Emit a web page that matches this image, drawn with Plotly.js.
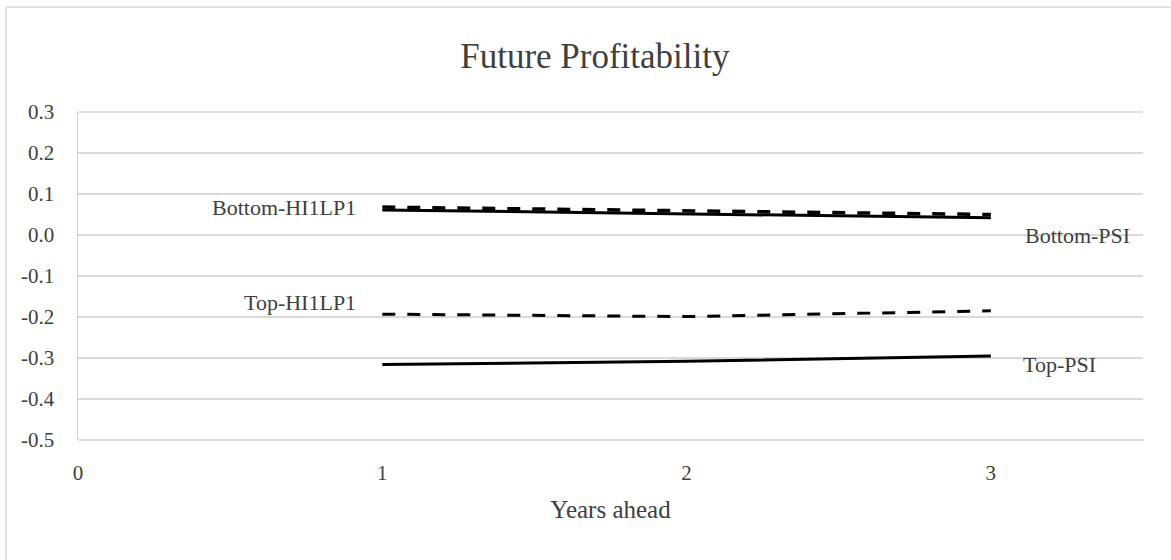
<!DOCTYPE html>
<html>
<head>
<meta charset="utf-8">
<script src="https://cdn.plot.ly/plotly-3.0.1.min.js"></script>
<style>html,body{margin:0;padding:0;background:#fff;}#chart{width:1171px;height:560px;}</style>
</head>
<body>
<div id="chart"></div>
<script>
const years = [1, 2, 3];
const bottomHI1LP1 = [0.068, 0.058, 0.050];
const bottomPSI = [0.061, 0.051, 0.042];
const topHI1LP1 = [-0.193, -0.199, -0.185];
const topPSI = [-0.316, -0.308, -0.295];
const yTicks = [0.3, 0.2, 0.1, 0.0, -0.1, -0.2, -0.3, -0.4, -0.5];
const yTickText = ['0.3', '0.2', '0.1', '0.0', '-0.1', '-0.2', '-0.3', '-0.4', '-0.5'];
const xTicks = [0, 1, 2, 3];

const font = 'Liberation Serif, Times New Roman, serif';
const txt = '#404040';

const traces = [
  {x: years, y: bottomPSI, mode: 'lines', name: 'Bottom-PSI', line: {color: '#000', width: 3}},
  {x: years, y: bottomHI1LP1, mode: 'lines', name: 'Bottom-HI1LP1', line: {color: '#000', width: 3.5, dash: '13px,12px'}},
  {x: years, y: topHI1LP1, mode: 'lines', name: 'Top-HI1LP1', line: {color: '#000', width: 3, dash: '13px,12px'}},
  {x: years, y: topPSI, mode: 'lines', name: 'Top-PSI', line: {color: '#000', width: 3}}
];

const layout = {
  width: 1171, height: 560,
  margin: {l: 78, r: 28, t: 112, b: 120},
  paper_bgcolor: '#fff', plot_bgcolor: '#fff',
  showlegend: false,
  font: {family: font, color: txt, size: 21},
  title: {text: 'Future Profitability', font: {family: font, size: 35, color: txt}, x: 0.508, xanchor: 'center', y: 0.9, yanchor: 'middle', yref: 'container'},
  xaxis: {
    range: [0, 3.5], tickvals: xTicks, ticktext: xTicks.map(String),
    showgrid: false, zeroline: false, showline: false, ticks: '',
    tickfont: {family: font, size: 21, color: txt}, ticklabelstandoff: 18,
    title: {text: 'Years ahead', font: {family: font, size: 25, color: txt}, standoff: 16}
  },
  yaxis: {
    range: [-0.5, 0.3], tickvals: yTicks, ticktext: yTickText,
    showgrid: true, gridcolor: '#d9d9d9', gridwidth: 1.5, zeroline: false,
    showline: true, linecolor: '#d0d0d0', linewidth: 1.5, ticks: '',
    tickfont: {family: font, size: 21, color: txt}, ticklabelstandoff: 18
  },
  shapes: [
    {type: 'line', xref: 'paper', yref: 'paper', x0: -0.0676, x1: -0.0676, y0: 1.32, y1: -0.4, line: {color: '#d9d9d9', width: 1.5}},
    {type: 'line', xref: 'paper', yref: 'paper', x0: -0.0676, x1: 1.05, y0: 1.32, y1: 1.32, line: {color: '#d9d9d9', width: 1.5}},
    {type: 'line', xref: 'paper', yref: 'paper', x0: 0, x1: 1, y0: 0, y1: 0, line: {color: '#d0d0d0', width: 1.5}},
    {type: 'line', xref: 'paper', yref: 'paper', x0: 0, x1: 1, y0: 1, y1: 1, line: {color: '#d9d9d9', width: 1.5}}
  ],
  annotations: [
    {x: 0.92, y: 0.068, xref: 'x', yref: 'y', text: 'Bottom-HI1LP1', showarrow: false, xanchor: 'right', yanchor: 'middle', font: {family: font, size: 22, color: txt}},
    {x: 0.92, y: -0.165, xref: 'x', yref: 'y', text: 'Top-HI1LP1', showarrow: false, xanchor: 'right', yanchor: 'middle', font: {family: font, size: 22, color: txt}},
    {x: 3.105, y: 0.0, xref: 'x', yref: 'y', text: 'Bottom-PSI', showarrow: false, xanchor: 'left', yanchor: 'middle', font: {family: font, size: 22, color: txt}},
    {x: 3.1, y: -0.315, xref: 'x', yref: 'y', text: 'Top-PSI', showarrow: false, xanchor: 'left', yanchor: 'middle', font: {family: font, size: 22, color: txt}}
  ]
};

Plotly.newPlot('chart', traces, layout, {displayModeBar: false, staticPlot: true});
</script>
</body>
</html>
